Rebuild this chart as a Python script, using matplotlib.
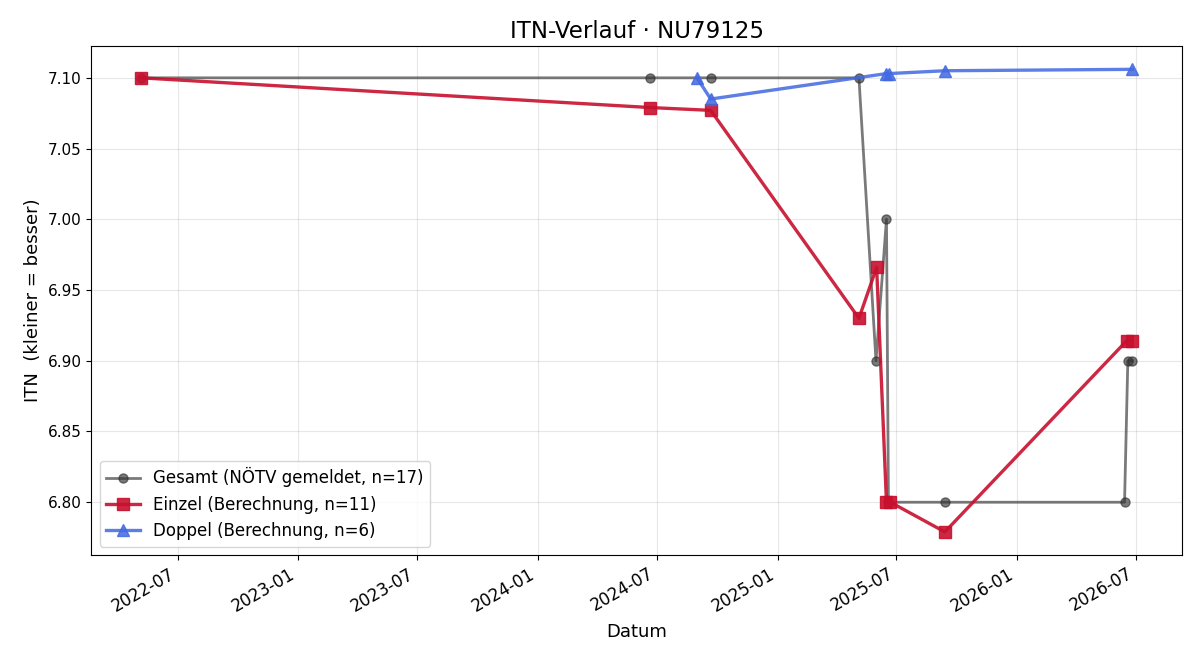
import numpy as np
import pandas as pd
import matplotlib
matplotlib.use("Agg")
import matplotlib.pyplot as plt
import matplotlib.dates as mdates

# Gesamt (NÖTV gemeldet)
gesamt_dates = ["2022-05-06", "2024-06-20", "2024-09-21", "2025-05-05", "2025-05-31",
                "2025-06-16", "2025-06-19", "2025-09-13", "2026-06-14", "2026-06-19",
                "2026-06-26"]
gesamt_itn = [7.10, 7.10, 7.10, 7.10, 6.90, 7.00, 6.80, 6.80, 6.80, 6.90, 6.90]

# Einzel (Berechnung)
einzel_dates = ["2022-05-06", "2024-06-20", "2024-09-21", "2025-05-05", "2025-06-01",
                "2025-06-16", "2025-06-22", "2025-09-13", "2026-06-17", "2026-06-26"]
einzel_itn = [7.10, 7.079, 7.077, 6.930, 6.966, 6.80, 6.80, 6.779, 6.914, 6.914]

# Doppel (Berechnung)
doppel_dates = ["2024-08-31", "2024-09-21", "2025-06-16", "2025-06-20", "2025-09-13",
                "2026-06-26"]
doppel_itn = [7.10, 7.085, 7.103, 7.103, 7.105, 7.106]

fig, ax = plt.subplots(figsize=(12, 6.6), dpi=100)

ax.plot(pd.to_datetime(gesamt_dates), gesamt_itn, marker="o", color="#333333", alpha=0.65,
        linewidth=2.0, markersize=6.5, label="Gesamt (NÖTV gemeldet, n=17)")
ax.plot(pd.to_datetime(einzel_dates), einzel_itn, marker="s", color="#C8102E", alpha=0.9,
        linewidth=2.4, markersize=8, label="Einzel (Berechnung, n=11)")
ax.plot(pd.to_datetime(doppel_dates), doppel_itn, marker="^", color="#4169E1", alpha=0.85,
        linewidth=2.4, markersize=8, label="Doppel (Berechnung, n=6)")

ax.set_title("ITN-Verlauf · NU79125", fontsize=16.5)
ax.set_xlabel("Datum", fontsize=13, labelpad=6)
ax.set_ylabel("ITN  (kleiner = besser)", fontsize=13)
ax.grid(True, alpha=0.3)
ax.yaxis.set_major_formatter(plt.FormatStrFormatter("%.2f"))
ax.xaxis.set_major_locator(mdates.MonthLocator(bymonth=[1, 7]))
ax.xaxis.set_major_formatter(mdates.DateFormatter("%Y-%m"))
ax.tick_params(axis="y", labelsize=11)
ax.tick_params(axis="x", labelsize=12)
ax.legend(loc="lower left", fontsize=12)
fig.autofmt_xdate()
fig.subplots_adjust(left=0.076, right=0.985, top=0.930, bottom=0.159)
fig.savefig("out.png")
